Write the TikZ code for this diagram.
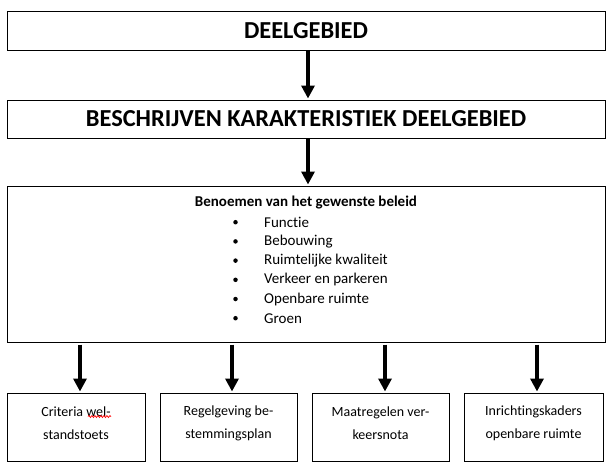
\documentclass[tikz,border=0pt]{standalone}
\usepackage{fontspec}
\setmainfont{Carlito}[RawFeature={-liga}]
\usetikzlibrary{arrows.meta,decorations.pathmorphing}
\begin{document}
\begin{tikzpicture}[x=1pt,y=-1pt,
  box/.style={draw=black,line width=1pt,inner sep=0pt},
  arr/.style={line width=3.5pt,-{Triangle[width=13pt,length=13pt]},shorten >=1pt},
  ttl/.style={font=\fontsize{24.4}{26}\selectfont\bfseries},
  sm/.style={font=\fontsize{14}{23}\selectfont,align=center}]
\useasboundingbox (0,0) rectangle (612,467);
\node[box,minimum width=598pt,minimum height=39pt,ttl] (a) at (306,30.5) {DEELGEBIED};
\node[box,minimum width=598pt,minimum height=38pt,ttl] (b) at (306,119) {BESCHRIJVEN KARAKTERISTIEK DEELGEBIED};
\node[box,minimum width=598pt,minimum height=156pt] (c) at (306,264) {};
\node[font=\fontsize{15}{16}\selectfont\bfseries] (ct) at (306,202) {Benoemen van het gewenste beleid};
\foreach \t [count=\i] in {Functie,Bebouwing,Ruimtelijke kwaliteit,Verkeer en parkeren,Openbare ruimte,Groen}{
  \node[circle,fill=black,inner sep=0pt,minimum size=4.5pt] (bul\i) at (235.5,203+19.2*\i) {};
  \node[anchor=west,font=\fontsize{15}{16}\selectfont,inner sep=0pt] (it\i) at (264,203+19.2*\i) {\t};
}
\node[box,minimum width=138pt,minimum height=68pt] (d1) at (76,427) {};
\node[box,minimum width=137pt,minimum height=68pt] (d2) at (228.5,427) {};
\node[box,minimum width=137pt,minimum height=68pt] (d3) at (380.5,427) {};
\node[box,minimum width=139pt,minimum height=68pt] (d4) at (533.5,427) {};
\node[sm] (t1) at (76,423) {Criteria wel-\\standstoets};
\node[sm] (t2) at (228.5,423) {Regelgeving be-\\stemmingsplan};
\node[sm] (t3) at (380.5,423) {Maatregelen ver-\\keersnota};
\node[sm] (t4) at (533.5,423) {Inrichtingskaders\\openbare ruimte};
\coordinate (w1) at (88,416.5);
\coordinate (w2) at (111,416.5);
\draw[red,line width=0.7pt,decorate,decoration={snake,amplitude=1pt,segment length=3pt}] (w1) -- (w2);
\draw[arr] (a.south -| 308,0) -- (b.north -| 308,0);
\draw[arr] (b.south -| 308,0) -- (c.north -| 308,0);
\foreach \x/\n in {80/1,232/2,385/3,537/4}{
  \draw[arr] (c.south -| \x,0) ++(0,2) -- (d\n.north -| \x,0);
}
\end{tikzpicture}
\end{document}
